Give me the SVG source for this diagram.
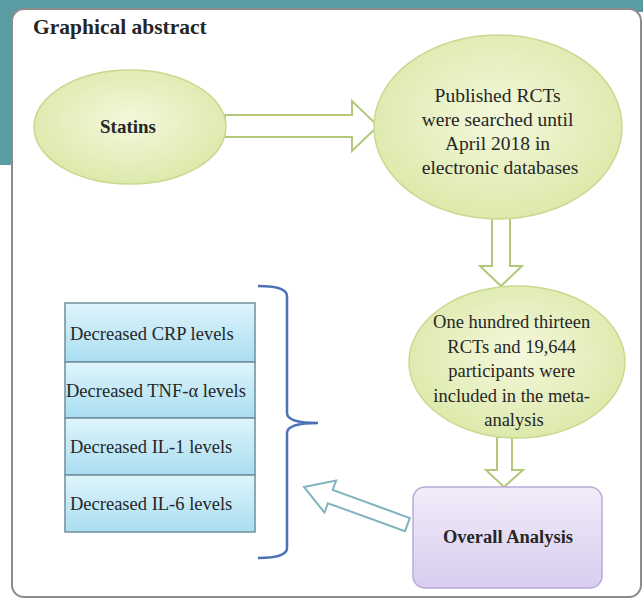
<svg xmlns="http://www.w3.org/2000/svg" width="643" height="599" viewBox="0 0 643 599">
  <defs>
    <radialGradient id="gEll" cx="50%" cy="45%" r="55%">
      <stop offset="0%" stop-color="#f4f8dc"/>
      <stop offset="100%" stop-color="#dde9ab"/>
    </radialGradient>
    <linearGradient id="gBlue" x1="0" y1="0" x2="0" y2="1">
      <stop offset="0%" stop-color="#dff4fb"/>
      <stop offset="100%" stop-color="#a9def1"/>
    </linearGradient>
    <linearGradient id="gPurple" x1="0" y1="0" x2="0" y2="1">
      <stop offset="0%" stop-color="#f1ecf9"/>
      <stop offset="100%" stop-color="#d8cdef"/>
    </linearGradient>
  </defs>
  <style>
    .t { font-family: "Liberation Serif", "Times New Roman", serif; fill: #262626; }
    .ell { fill: url(#gEll); stroke: #c9d98f; stroke-width: 1.5; }
    .garrow { fill: #ffffff; stroke: #b3c77a; stroke-width: 2; stroke-linejoin: miter; }
    .box { fill: url(#gBlue); stroke: #6f8f9c; stroke-width: 1.5; }
  </style>
  <rect x="0" y="0" width="643" height="599" fill="#ffffff"/>
  <rect x="0" y="0" width="643" height="12" fill="#5a9ca2"/>
  <rect x="0" y="0" width="14" height="165" fill="#5a9ca2"/>
  <rect x="12" y="9" width="629" height="588" rx="12" ry="12" fill="#ffffff" stroke="#8c8c8c" stroke-width="2"/>

  <text class="t" x="33" y="34" font-size="21.5" font-weight="bold">Graphical abstract</text>

  <g id="connectors">
    <path class="garrow" d="M225,115 L352,115 L352,101 L378,126 L352,151 L352,137 L225,137 Z"/>
    <path class="garrow" d="M492,218 L510,218 L510,266 L522,266 L501,286 L480,266 L492,266 Z"/>
    <path class="garrow" d="M497,437 L512,437 L512,470 L523,470 L504,487 L486,470 L497,470 Z"/>
    <path fill="#ffffff" stroke="#7fb3bd" stroke-width="2" d="M304,487 L336.1,480.6 L332.7,490 L409.8,518 L405,531.2 L327.9,503.2 L324.5,512.6 Z"/>
    <path fill="none" stroke="#4a72b8" stroke-width="2.5" d="M258,286 Q287,286 287,296 L287,413 Q287,423 318,423 Q287,423 287,433 L287,548 Q287,558 258,558"/>
  </g>

  <g id="statins">
    <ellipse class="ell" cx="130" cy="127" rx="96" ry="57"/>
    <text class="t" x="128" y="133" font-size="19" font-weight="bold" text-anchor="middle">Statins</text>
  </g>

  <g id="published">
    <ellipse class="ell" cx="498" cy="127" rx="124" ry="92"/>
    <text class="t" font-size="19.5" text-anchor="middle">
      <tspan x="500" y="102">Published RCTs</tspan>
      <tspan x="500" y="126">were searched until</tspan>
      <tspan x="500" y="150">April 2018 in</tspan>
      <tspan x="500" y="174">electronic databases</tspan>
    </text>
  </g>

  <g id="included">
    <ellipse class="ell" cx="517" cy="362" rx="108" ry="76"/>
    <text class="t" font-size="18.5" text-anchor="middle">
      <tspan x="514" y="328">One hundred thirteen</tspan>
      <tspan x="514" y="353">RCTs and 19,644</tspan>
      <tspan x="514" y="377">participants were</tspan>
      <tspan x="514" y="402">included in the meta-</tspan>
      <tspan x="514" y="426">analysis</tspan>
    </text>
  </g>

  <g id="overall">
    <rect x="413" y="487" width="189" height="101" rx="12" ry="12" fill="url(#gPurple)" stroke="#b9aad9" stroke-width="1.5"/>
    <text class="t" x="508" y="543" font-size="18.5" font-weight="bold" text-anchor="middle">Overall Analysis</text>
  </g>

  <g id="outcomes">
    <rect class="box" x="65" y="303" width="190" height="59"/>
    <rect class="box" x="65" y="362" width="190" height="56"/>
    <rect class="box" x="65" y="418" width="190" height="57"/>
    <rect class="box" x="65" y="475" width="190" height="57"/>
    <text class="t" font-size="18.5">
      <tspan x="70" y="340">Decreased CRP levels</tspan>
      <tspan x="66" y="397">Decreased TNF-α levels</tspan>
      <tspan x="70" y="453">Decreased IL-1 levels</tspan>
      <tspan x="70" y="510">Decreased IL-6 levels</tspan>
    </text>
  </g>
</svg>
